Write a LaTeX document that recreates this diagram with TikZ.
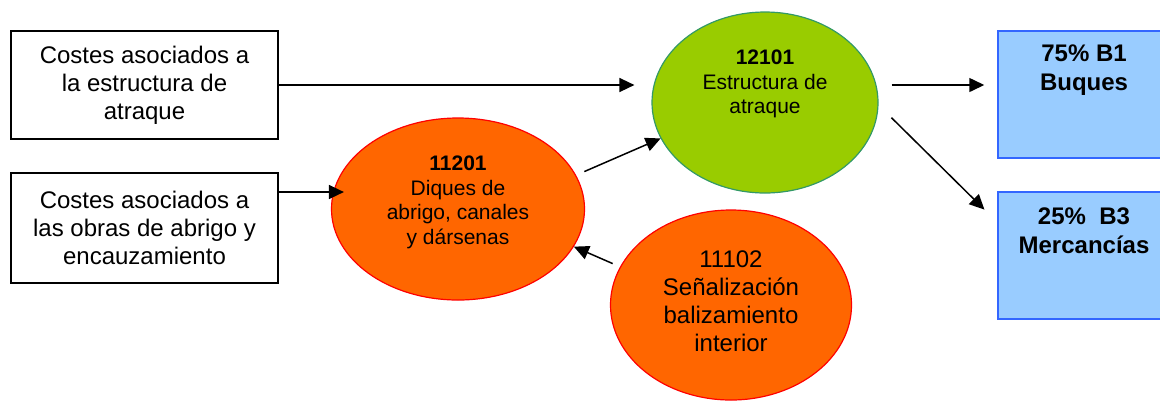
\documentclass[tikz,border=0pt]{standalone}
\usepackage{fontspec}
\setmainfont{Liberation Sans}
\usetikzlibrary{shapes.geometric,arrows.meta}

\definecolor{naranja}{HTML}{FF6600}
\definecolor{verde}{HTML}{99CC00}
\definecolor{verdeborde}{HTML}{339966}
\definecolor{azul}{HTML}{99CCFF}
\definecolor{azulborde}{HTML}{3366FF}

\begin{document}
\begin{tikzpicture}[
    x=0.5pt, y=-0.5pt,
    coste/.style={rectangle, draw=black, line width=0.75pt, minimum width=133.5pt, minimum height=54pt, align=center, font=\fontsize{12}{14}\selectfont},
    centro/.style={ellipse, inner sep=0pt, fill=naranja, draw=red, line width=0.6pt},
    imputa/.style={rectangle, inner sep=0pt, fill=azul, draw=azulborde, line width=0.75pt, minimum width=100pt, minimum height=63.5pt},
    txt/.style={align=center, font=\fontsize{10.5}{12.3}\selectfont},
    big/.style={align=center, font=\fontsize{12}{14}\selectfont},
    flecha/.style={line width=0.75pt, -{Triangle[length=7.5pt,width=7pt]}}
]
\useasboundingbox (0,0) rectangle (1160,403);
\clip (0,0) rectangle (1160,403);

% Cost boxes (left)
\node[coste] (box1) at (144.5, 85) {Costes asociados a\\la estructura de\\atraque};
\node[coste, minimum height=55pt] (box2) at (144.5, 228) {Costes asociados a\\las obras de abrigo y\\encauzamiento};

% Cost centres
\node[centro, minimum width=126.5pt, minimum height=91pt] (dique) at (458, 209) {};
\node[txt] (dique-txt) at (458, 202.5) {\textbf{11201}\\Diques de\\abrigo, canales\\y dársenas};

\node[centro, minimum width=120.5pt, minimum height=95pt] (senal) at (731, 305) {};
\node[big] (senal-txt) at (731, 301.5) {11102\\Señalización\\balizamiento\\interior};

\node[ellipse, inner sep=0pt, fill=verde, draw=verdeborde, line width=0.6pt, minimum width=113pt, minimum height=90.5pt] (estr) at (765, 102.5) {};
\node[txt] (estr-txt) at (765, 84) {\textbf{12101}\\Estructura de\\atraque};

% Activities (right), cut at the page edge
\node[imputa] (buq) at (1098, 94.5) {};
\node[big, font=\fontsize{12}{14.5}\selectfont\bfseries] (buq-txt) at (1084, 70) {75\% B1\\Buques};
\node[imputa] (mer) at (1098, 255.5) {};
\node[big, font=\fontsize{12}{14.5}\selectfont\bfseries] (mer-txt) at (1084, 231) {25\%\ \ B3\\Mercancías};

% Flows
\draw[flecha, shorten >=8.5pt] (box1.east) -- (box1.east -| estr.west);
\draw[flecha, shorten >=-6.5pt] ([yshift=18pt]box2.east) -- ([yshift=18pt]box2.east -| dique.west);
\draw[flecha, shorten <=4.5pt] (dique.16) -- (estr.199);
\draw[flecha, shorten <=4pt] (senal.161) -- (dique.342);
\draw[flecha, shorten <=6.5pt, shorten >=6.5pt] ([yshift=8.75pt]estr.east) -- ([yshift=4.75pt]buq.west);
\draw[flecha, shorten <=9pt, shorten >=9pt] ([yshift=-1.25pt]estr.east) -- ([yshift=-15.5pt]mer.north west);

\end{tikzpicture}
\end{document}
